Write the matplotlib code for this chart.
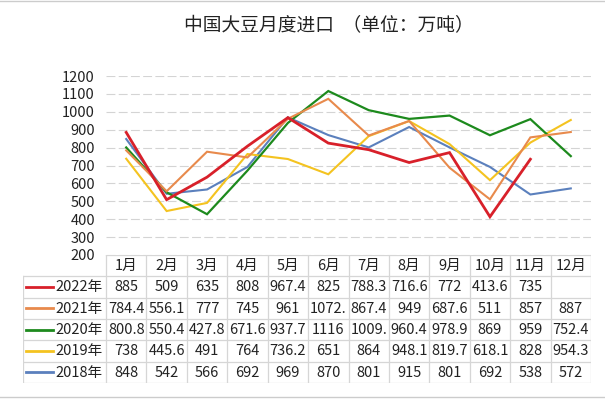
import matplotlib
matplotlib.use("Agg")
import matplotlib.pyplot as plt
import numpy as np

plt.rcParams['font.family'] = ['Noto Sans CJK SC', 'DejaVu Sans']

months = ["1月", "2月", "3月", "4月", "5月", "6月", "7月", "8月", "9月", "10月", "11月", "12月"]
years = ["2022年", "2021年", "2020年", "2019年", "2018年"]
v2022 = [885, 509, 635, 808, 967.4, 825, 788.3, 716.6, 772, 413.6, 735, None]
v2021 = [784.4, 556.1, 777, 745, 961, 1072.5, 867.4, 949, 687.6, 511, 857, 887]
v2020 = [800.8, 550.4, 427.8, 671.6, 937.7, 1116, 1009.1, 960.4, 978.9, 869, 959, 752.4]
v2019 = [738, 445.6, 491, 764, 736.2, 651, 864, 948.1, 819.7, 618.1, 828, 954.3]
v2018 = [848, 542, 566, 692, 969, 870, 801, 915, 801, 692, 538, 572]
series = [v2022, v2021, v2020, v2019, v2018]
colors = ["#d8202a", "#e88a4c", "#1d8a1d", "#f4c320", "#5b80bd"]
widths = [2.0, 1.5, 1.6, 1.5, 1.5]

W, H = 605, 399
fig = plt.figure(figsize=(W / 100, H / 100), dpi=100)

def fx(px):
    return px / W

def fy(py):
    return 1 - py / H

# chart area
x0, x1, ytop, ybot = 106, 591, 76, 255
ax = fig.add_axes([fx(x0), fy(ybot), fx(x1) - fx(x0), fy(ytop) - fy(ybot)])
xs = np.arange(len(months))
for vals, c, lw in zip(series[::-1], colors[::-1], widths[::-1]):
    arr = np.array([np.nan if v is None else v for v in vals], dtype=float)
    ax.plot(xs, arr, color=c, lw=lw, solid_joinstyle="miter")
ax.set_xlim(-0.5, 11.5)
ax.set_ylim(200, 1200)
ax.set_yticks(range(200, 1201, 100))
ax.set_xticks([])
ax.yaxis.grid(True, color="#d4d4d4", lw=0.8, ls=(0, (8, 3)))
ax.set_axisbelow(True)
for s in ax.spines.values():
    s.set_visible(False)
ax.tick_params(axis="y", length=0, labelsize=10.5, pad=8, colors="#222222")

fig.text(fx(329), fy(26), "中国大豆月度进口  （单位：万吨）", ha="center", va="center",
         fontsize=13.5, color="#222222")

# data table
tl = 23
lab_w = (x0 - tl) / ((x1 - x0) / 12)
tab = fig.add_axes([fx(tl), fy(383), fx(x1) - fx(tl), fy(255) - fy(383)])
tab.set_xlim(-lab_w, 12)
tab.set_ylim(6, 0)
tab.axis("off")
gc = "#d6d6d6"
# header row
tab.plot([0, 12], [0, 0], color=gc, lw=0.9)
for i in range(13):
    tab.plot([i, i], [0, 6], color=gc, lw=0.9)
tab.plot([-lab_w, -lab_w], [1, 6], color=gc, lw=0.9)
for r in range(1, 7):
    tab.plot([-lab_w, 12], [r, r], color=gc, lw=0.9)
for i, m in enumerate(months):
    tab.text(i + 0.5, 0.52, m, ha="center", va="center", fontsize=10.5, color="#222222")


def cell_text(v):
    if v is None:
        return ""
    s = f"{v:g}"
    return s[:5]


for r, (yr, vals, c) in enumerate(zip(years, series, colors), start=1):
    tab.plot([-lab_w + 0.08, -lab_w + 0.75], [r + 0.5, r + 0.5], color=c, lw=2)
    tab.text(-lab_w + 0.8, r + 0.52, yr, ha="left", va="center", fontsize=10.5, color="#222222")
    for i, v in enumerate(vals):
        tab.text(i + 0.5, r + 0.52, cell_text(v), ha="center", va="center", fontsize=10.5,
                 color="#222222")

# outer frame lines
fig.add_artist(plt.Line2D([0, 1], [fy(1), fy(1)], color="#cccccc", lw=1))
fig.add_artist(plt.Line2D([0, 1], [fy(397), fy(397)], color="#cccccc", lw=1))

fig.savefig("out.png", dpi=100)
